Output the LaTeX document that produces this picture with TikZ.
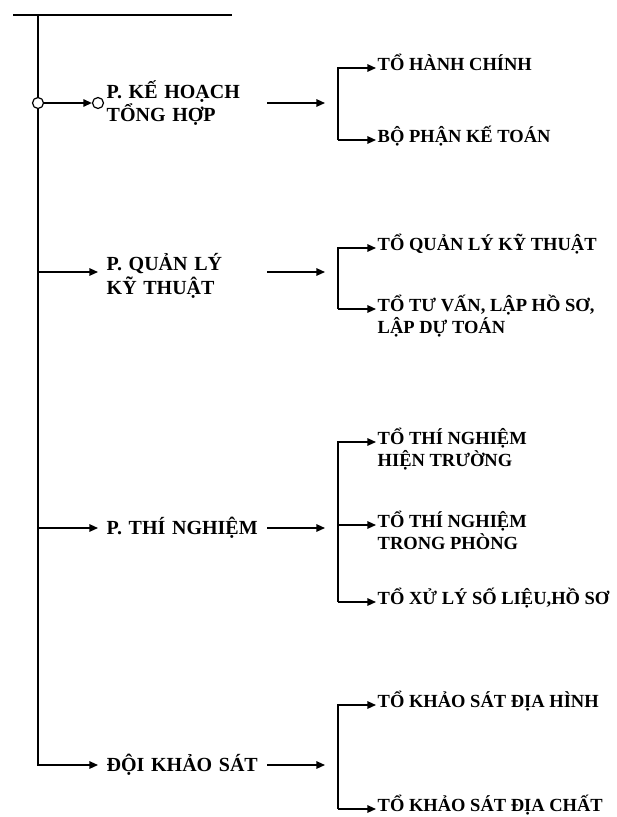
\documentclass[tikz,border=0pt]{standalone}
\usepackage{fontspec}
\setmainfont{Liberation Serif}
\usetikzlibrary{arrows.meta,positioning}
\newcommand{\haidong}[2]{\begin{tabular}[t]{@{}l@{}}#1\\#2\end{tabular}}

\begin{document}
\begin{tikzpicture}[
                x=1pt, y=-1pt,
                phong/.style={anchor=west, align=left, text width=152pt, inner xsep=8.5pt, inner ysep=1pt, font=\bfseries\fontsize{20}{23.5}\selectfont},
                donvi/.style={anchor=mid west, inner xsep=1.5pt, inner ysep=1pt, font=\bfseries\fontsize{18.5}{21}\selectfont},
                duong/.style={line width=1.5pt, black},
                muiten/.style={duong, -{Triangle[length=3mm, width=2.6mm]}},
                vong/.style={circle, draw, line width=1.2pt, fill=white, minimum size=11pt, inner sep=0pt}
            ]
            \useasboundingbox (0,0) rectangle (617,817);

            \coordinate (topL) at (13,15);
            \coordinate (topR) at (232,15);
            \coordinate (goc) at (38,15);
            \coordinate (ngoac) at (338,0);

            % cac phong ban
            \node[phong] (kh) at (98,103) {P. KẾ HOẠCH\\TỔNG HỢP};
            \node[phong] (ql) at (98,276) {P. QUẢN LÝ\\KỸ THUẬT};
            \node[phong] (tn) at (98,528) {P. THÍ NGHIỆM};
            \node[phong] (dk) at (98,765) {ĐỘI KHẢO SÁT};

            \coordinate (kh-den) at (325,103);
            \coordinate (ql-den) at (325,272);
            \coordinate (tn-den) at (325,528);
            \coordinate (dk-den) at (325,765);

            % cac to
            \node[donvi] (hc) at (376,68) {TỔ HÀNH CHÍNH};
            \node[donvi] (kt) at (376,140) {BỘ PHẬN KẾ TOÁN};
            \node[donvi] (qlkt) at (376,248) {TỔ QUẢN LÝ KỸ THUẬT};
            \node[donvi] (tv) at (376,309) {\haidong{TỔ TƯ VẤN, LẬP HỒ SƠ,}{LẬP DỰ TOÁN}};
            \node[donvi] (tnht) at (376,442) {\haidong{TỔ THÍ NGHIỆM}{HIỆN TRƯỜNG}};
            \node[donvi] (tntp) at (376,525) {\haidong{TỔ THÍ NGHIỆM}{TRONG PHÒNG}};
            \node[donvi] (xl) at (376,602) {TỔ XỬ LÝ SỐ LIỆU,HỒ SƠ};
            \node[donvi] (dh) at (376,705) {TỔ KHẢO SÁT ĐỊA HÌNH};
            \node[donvi] (dc) at (376,809) {TỔ KHẢO SÁT ĐỊA CHẤT};

            % truc chinh
            \draw[line width=2pt] (topL) -- (topR);
            \draw[muiten] (goc) |- (dk.west);
            \node[vong] (o1) at (goc |- kh.west) {};
            \node[vong] (o2) at (kh.west) {};
            \draw[muiten] (o1) -- (o2);
            \draw[muiten] (goc |- ql-den) -- (ql.west |- ql-den);
            \draw[muiten] (goc |- tn.west) -- (tn.west);

            % sang cac to
            \draw[muiten] (kh.east) -- (kh-den);
            \draw[muiten] (ql.east |- ql-den) -- (ql-den);
            \draw[muiten] (tn.east) -- (tn-den);
            \draw[muiten] (dk.east) -- (dk-den);

            \draw[muiten] (ngoac |- kt.mid west) |- (hc.mid west);
            \draw[muiten] (ngoac |- kt.mid west) -- (kt.mid west);
            \draw[muiten] (ngoac |- tv.mid west) |- (qlkt.mid west);
            \draw[muiten] (ngoac |- tv.mid west) -- (tv.mid west);
            \draw[muiten] (ngoac |- xl.mid west) |- (tnht.mid west);
            \draw[muiten] (ngoac |- tntp.mid west) -- (tntp.mid west);
            \draw[muiten] (ngoac |- xl.mid west) -- (xl.mid west);
            \draw[muiten] (ngoac |- dc.mid west) |- (dh.mid west);
            \draw[muiten] (ngoac |- dc.mid west) -- (dc.mid west);
        \end{tikzpicture}
\end{document}
